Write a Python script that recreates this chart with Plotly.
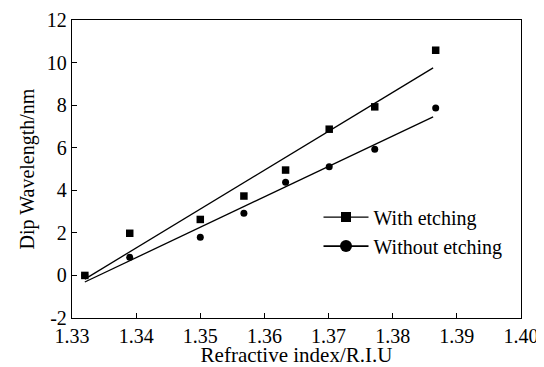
import numpy as np
import plotly.graph_objects as go

ri = [1.3320, 1.3390, 1.3500, 1.3568, 1.3633, 1.3701, 1.3772, 1.3867]
with_etching = [0.0, 1.98, 2.63, 3.73, 4.95, 6.87, 7.92, 10.58]
without_etching = [0.0, 0.85, 1.79, 2.92, 4.38, 5.10, 5.93, 7.87]

x_ticks = [1.33, 1.34, 1.35, 1.36, 1.37, 1.38, 1.39, 1.40]
x_tick_text = ["1.33", "1.34", "1.35", "1.36", "1.37", "1.38", "1.39", "1.40"]
y_ticks = [-2, 0, 2, 4, 6, 8, 10, 12]
y_tick_text = ["-2", "0", "2", "4", "6", "8", "10", "12"]

FONT = "Liberation Serif, Times New Roman, serif"

fig = go.Figure()

xs = np.array(ri)
xfit = np.array([xs.min(), xs.max() - 0.0004])
for ys in (with_etching, without_etching):
    k, b = np.polyfit(xs, np.array(ys), 1)
    fig.add_trace(go.Scatter(x=xfit, y=k * xfit + b, mode="lines",
                             line=dict(color="black", width=1.3), showlegend=False,
                             hoverinfo="skip"))

fig.add_trace(go.Scatter(x=ri, y=with_etching, mode="markers",
                         marker=dict(symbol="square", size=7.5, color="black"),
                         showlegend=False))
fig.add_trace(go.Scatter(x=ri, y=without_etching, mode="markers",
                         marker=dict(symbol="circle", size=7, color="black"),
                         showlegend=False))

# legend entries
fig.add_trace(go.Scatter(x=[None], y=[None], mode="lines+markers", name="With etching",
                         line=dict(color="black", width=1.3),
                         marker=dict(symbol="square", size=10, color="black")))
fig.add_trace(go.Scatter(x=[None], y=[None], mode="lines+markers", name="Without etching",
                         line=dict(color="black", width=1.6),
                         marker=dict(symbol="circle", size=12, color="black")))

# page body has an 8px margin: shrink figure so the plot lands in place
fig.update_layout(
    width=536, height=359,
    margin=dict(l=64, r=23, t=12, b=49),
    paper_bgcolor="white", plot_bgcolor="white",
    font=dict(family=FONT, size=20, color="black"),
    showlegend=True,
    legend=dict(x=0.549, y=0.29, xanchor="left", yanchor="middle",
                bgcolor="rgba(0,0,0,0)", font=dict(family=FONT, size=20),
                tracegroupgap=0, itemwidth=45),
    xaxis=dict(range=[1.33, 1.40], tickvals=x_ticks, ticktext=x_tick_text,
               ticks="inside", ticklen=5, tickcolor="black",
               showline=True, linecolor="black", linewidth=1.3, mirror=True,
               showgrid=False, zeroline=False, automargin=False,
               title=dict(text="Refractive index/R.I.U", standoff=2,
                          font=dict(family=FONT, size=21)),
               tickfont=dict(family=FONT, size=20)),
    yaxis=dict(range=[-2, 12], tickvals=y_ticks, ticktext=y_tick_text,
               ticks="inside", ticklen=5, tickcolor="black",
               showline=True, linecolor="black", linewidth=1.3, mirror=True,
               showgrid=False, zeroline=False, automargin=False,
               title=dict(text="Dip Wavelength/nm", standoff=6,
                          font=dict(family=FONT, size=20)),
               tickfont=dict(family=FONT, size=20)),
)

fig.write_html("out.html")
